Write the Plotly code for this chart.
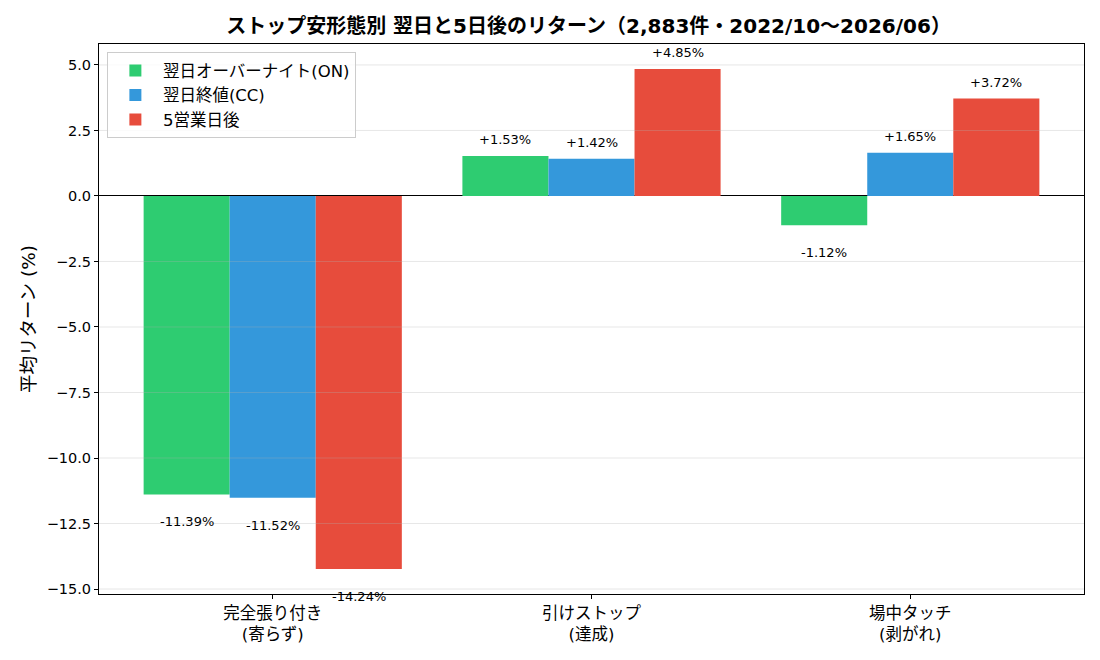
import plotly.graph_objects as go

categories = ["完全張り付き<br>(寄らず)", "引けストップ<br>(達成)", "場中タッチ<br>(剥がれ)"]
series_names = ["翌日オーバーナイト(ON)", "翌日終値(CC)", "5営業日後"]
on_values = [-11.39, 1.53, -1.12]
cc_values = [-11.52, 1.42, 1.65]
d5_values = [-14.24, 4.85, 3.72]
colors = ["#2ecc71", "#3498db", "#e74c3c"]
y_ticks = [-15.0, -12.5, -10.0, -7.5, -5.0, -2.5, 0.0, 2.5, 5.0]

FONT = "DejaVu Sans, Noto Sans CJK JP, sans-serif"
width = 0.27
xpos = list(range(len(categories)))

fig = go.Figure()
all_series = [on_values, cc_values, d5_values]
for j, (name, vals, col) in enumerate(zip(series_names, all_series, colors)):
    fig.add_trace(go.Bar(
        x=[x + (j - 1) * width for x in xpos], y=vals, width=width,
        name=name, marker=dict(color=col, line=dict(width=0)),
    ))
    for x, v in zip(xpos, vals):
        fig.add_annotation(
            x=x + (j - 1) * width, y=v,
            text=f"{v:+.2f}%",
            showarrow=False,
            yanchor="bottom" if v >= 0 else "top",
            yshift=7 if v >= 0 else -18,
            font=dict(family=FONT, size=13, color="black"),
        )

for t in y_ticks:
    if t == 0:
        continue
    fig.add_shape(type="line", xref="paper", x0=0, x1=1, yref="y", y0=t, y1=t,
                  line=dict(color="rgba(176,176,176,0.3)", width=1), layer="above")

fig.update_layout(
    width=1100, height=660,
    margin=dict(l=99, r=16, t=44, b=66),
    paper_bgcolor="white", plot_bgcolor="white",
    barmode="overlay",
    title=dict(text="<b>ストップ安形態別 翌日と5日後のリターン（2,883件・2022/10〜2026/06）</b>",
               xref="paper", x=0.497, xanchor="center", y=0.96, yanchor="middle",
               font=dict(family=FONT, size=20, color="black")),
    font=dict(family=FONT, size=13, color="black"),
    showlegend=True,
    legend=dict(x=0.008, y=0.985, xanchor="left", yanchor="top",
                bordercolor="#cccccc", borderwidth=1, bgcolor="rgba(255,255,255,0.8)",
                font=dict(family=FONT, size=16.5), itemsizing="constant",
                itemwidth=45, tracegroupgap=2),
)
fig.update_xaxes(
    range=[-0.545, 2.545], tickvals=xpos, ticktext=categories,
    showline=True, linecolor="black", linewidth=1, mirror=True,
    ticks="outside", ticklen=4, tickcolor="black", showgrid=False, zeroline=False,
    tickfont=dict(family=FONT, size=16.5),
)
fig.update_yaxes(
    range=[-15.19, 5.80], tickvals=y_ticks,
    ticktext=[f"{t:.1f}".replace("-", "−") for t in y_ticks],
    showline=True, linecolor="black", linewidth=1, mirror=True,
    ticks="outside", ticklen=4, tickcolor="black", showgrid=False,
    zeroline=True, zerolinecolor="black", zerolinewidth=1,
    tickfont=dict(family=FONT, size=14.5),
    title=dict(text="平均リターン (%)", font=dict(family=FONT, size=18.5), standoff=6),
)

fig.write_html("out.html")
